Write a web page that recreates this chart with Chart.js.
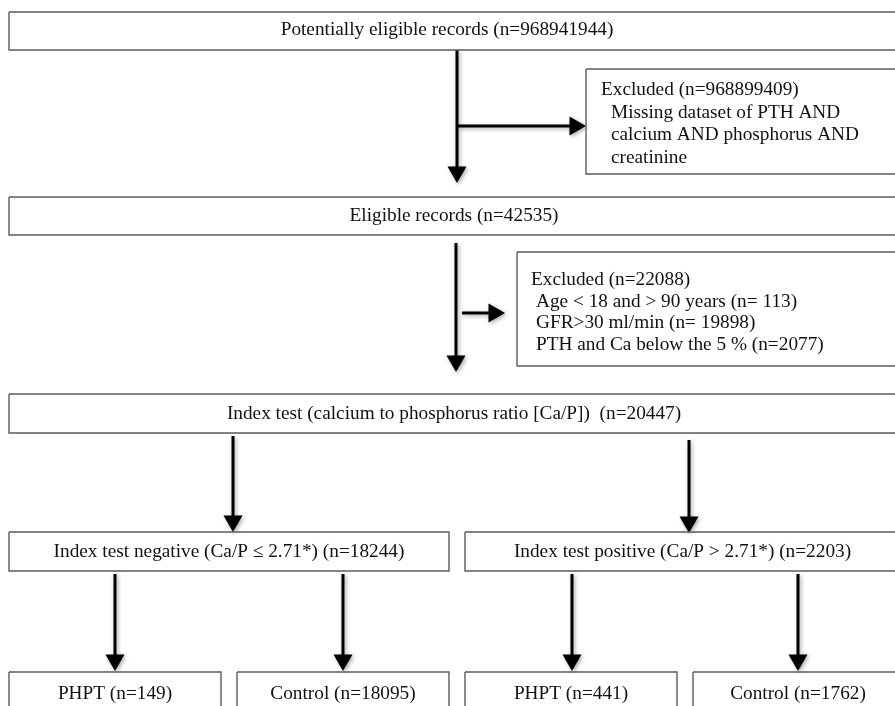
<!DOCTYPE html>
<html>
<head>
<meta charset="utf-8">
<script src="https://cdn.jsdelivr.net/npm/chart.js@4.4.0/dist/chart.umd.min.js"></script>
<style>
  html, body { margin: 0; padding: 0; background: #fff; }
  #wrap { width: 895px; height: 706px; position: relative; }
</style>
</head>
<body>
<div id="wrap"><canvas id="flowChart"></canvas></div>
<script>
// flow stages
const stageNames = [
  "Potentially eligible records",
  "Eligible records",
  "Index test (calcium to phosphorus ratio [Ca/P])",
  "Index test negative (Ca/P \u2264 2.71*)",
  "Index test positive (Ca/P > 2.71*)",
  "PHPT", "Control", "PHPT", "Control"
];
const stageCounts = [968941944, 42535, 20447, 18244, 2203, 149, 18095, 441, 1762];

// exclusions
const excludedCounts = [968899409, 22088];
const reasons1 = ["Missing dataset of PTH AND", "calcium AND phosphorus AND", "creatinine"];
const reasons2 = ["Age < 18 and > 90 years", "GFR>30 ml/min", "PTH and Ca below the 5 %"];
const reasons2Counts = [113, 19898, 2077];
const reasons2Gap = [" ", " ", ""];

// layout (page units, y down)
const stageBoxes = [
  [9, 899, 12, 50], [9, 899, 197, 235], [9, 899, 394, 433],
  [9, 449, 532, 571], [465, 900, 532, 571],
  [9, 221, 672, 730], [237, 449, 672, 730], [465, 677, 672, 730], [693, 903, 672, 730]
];
const textY = [30, 216, 414, 552, 552, 694, 694, 694, 694];
const exclBoxes = [[586, 900, 69, 174], [517, 900, 252, 366]];
const exclText = [{x: 601, indent: 10, y: 90, step: 22.5}, {x: 531, indent: 5, y: 280, step: 21.7}];
const arrows = [
  [457, 50, 457, 183], [457, 126, 586, 126],
  [456, 243, 456, 372], [462, 313, 505, 313],
  [233, 436, 233, 532], [689, 440, 689, 533],
  [115, 574, 115, 671], [343, 574, 343, 671],
  [572, 574, 572, 671], [798, 574, 798, 671]
];
const headR = 11;
const fontSize = 19.3;

function rectPoints(b) {
  return [{x: b[0], y: b[2]}, {x: b[1], y: b[2]}, {x: b[1], y: b[3]}, {x: b[0], y: b[3]}, {x: b[0], y: b[2]}];
}

const datasets = [];
stageBoxes.concat(exclBoxes).forEach(b => {
  datasets.push({
    data: rectPoints(b), showLine: true, borderColor: "#5c5c5c", borderWidth: 1.4,
    pointRadius: 0, fill: false, tension: 0, clip: false
  });
});
arrows.forEach(a => {
  const down = a[0] === a[2];
  const end = down ? {x: a[2], y: a[3] - headR} : {x: a[2] - headR, y: a[3]};
  datasets.push({
    data: [{x: a[0], y: a[1]}, end], showLine: true, borderColor: "#000", borderWidth: 3,
    pointRadius: [0, headR], pointHoverRadius: [0, headR], pointStyle: "triangle",
    rotation: [0, down ? 180 : 90], pointBackgroundColor: "#000", pointBorderColor: "#000",
    pointBorderWidth: 0, shadow: true, clip: false
  });
});

const shadowPlugin = {
  id: "shadow",
  beforeDatasetDraw(chart, args) {
    if (!chart.data.datasets[args.index].shadow) return;
    const c = chart.ctx;
    c.save();
    c.shadowColor = "rgba(0,0,0,0.35)";
    c.shadowBlur = 4;
    c.shadowOffsetX = 1.5;
    c.shadowOffsetY = 1.5;
  },
  afterDatasetDraw(chart, args) {
    if (!chart.data.datasets[args.index].shadow) return;
    chart.ctx.restore();
  }
};

const textPlugin = {
  id: "boxText",
  afterDatasetsDraw(chart) {
    const c = chart.ctx;
    const sx = chart.scales.x, sy = chart.scales.y;
    c.save();
    c.fillStyle = "#111";
    c.font = fontSize + "px 'Liberation Serif', 'Times New Roman', serif";
    c.textBaseline = "middle";
    c.textAlign = "center";
    stageNames.forEach((name, i) => {
      const b = stageBoxes[i];
      const cx = i === 0 ? 447 : (b[0] + b[1]) / 2;
      const sep = i === 2 ? "  " : " ";
      c.fillText(name + sep + "(n=" + stageCounts[i] + ")", sx.getPixelForValue(cx), sy.getPixelForValue(textY[i]));
    });
    c.textAlign = "left";
    const blocks = [
      reasons1,
      reasons2.map((r, i) => r + " (n=" + reasons2Gap[i] + reasons2Counts[i] + ")")
    ];
    blocks.forEach((lines, k) => {
      const t = exclText[k];
      c.fillText("Excluded (n=" + excludedCounts[k] + ")", sx.getPixelForValue(t.x), sy.getPixelForValue(t.y));
      lines.forEach((ln, j) => {
        c.fillText(ln, sx.getPixelForValue(t.x + t.indent), sy.getPixelForValue(t.y + t.step * (j + 1)));
      });
    });
    c.restore();
  }
};

const config = {
  type: "scatter",
  data: {datasets: datasets},
  options: {
    responsive: true,
    maintainAspectRatio: false,
    animation: false,
    layout: {padding: 0, autoPadding: false},
    plugins: {legend: {display: false}, tooltip: {enabled: false}},
    events: [],
    scales: {
      x: {type: "linear", min: 0, max: 895, display: false},
      y: {type: "linear", min: 0, max: 706, reverse: true, display: false}
    }
  },
  plugins: [shadowPlugin, textPlugin]
};

const ctx = document.getElementById("flowChart").getContext("2d");
const flowChart = new Chart(ctx, config);
</script>
</body>
</html>
